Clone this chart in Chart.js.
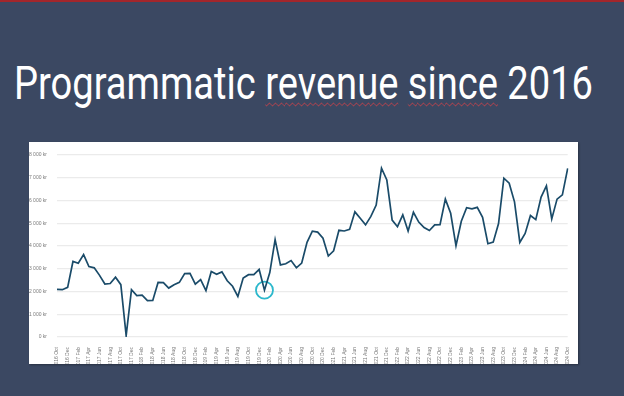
<!DOCTYPE html>
<html>
<head>
<meta charset="utf-8">
<script src="https://cdn.jsdelivr.net/npm/chart.js@4"></script>
<style>
  html, body { margin: 0; padding: 0; }
  body {
    width: 624px; height: 396px; overflow: hidden; position: relative;
    background: #3b4862;
  }
  #topline { position: absolute; left: 0; top: 0; width: 624px; height: 2px; background: #a3262b; }
  #title {
    position: absolute; left: 14px; top: 60px; margin: 0;
    font-family: Roboto, "Liberation Sans", sans-serif;
    font-weight: normal; font-size: 46px; line-height: 1; color: #ffffff;
    white-space: nowrap; transform-origin: 0 0;
  }
  .sp { text-decoration: underline wavy #c8414a 1px; text-underline-offset: 3px; }
  #panel {
    position: absolute; left: 29px; top: 142px; width: 549px; height: 222px;
    background: #ffffff; box-shadow: 1px 1px 2px rgba(0,0,0,0.35);
  }
  #panel canvas { display: block; }
</style>
</head>
<body>
<div id="topline"></div>
<h1 id="title">Programmatic <span class="sp">revenue</span> <span class="sp">since</span> 2016</h1>
<div id="panel"><canvas id="revenueChart" width="549" height="222"></canvas></div>

<script>
// months shown on the x axis, first one is 2016 Oct
const monthNames = ["Jan", "Feb", "Mar", "Apr", "May", "Jun", "Jul", "Aug", "Sep", "Oct", "Nov", "Dec"];
const startYear = 2016;
const startMonth = 9; // Oct

// monthly revenue in kr
const revenue2016 = [2090, 2080, 2180];
const revenue2017 = [3320, 3240, 3620, 3100, 3040, 2710, 2330, 2350, 2630, 2300, 60, 2080];
const revenue2018 = [1820, 1840, 1600, 1610, 2400, 2390, 2150, 2300, 2400, 2790, 2800, 2320];
const revenue2019 = [2520, 2040, 2880, 2760, 2860, 2470, 2230, 1780, 2590, 2740, 2740, 2970];
const revenue2020 = [2060, 2830, 4280, 3170, 3220, 3360, 3040, 3250, 4160, 4650, 4610, 4340];
const revenue2021 = [3560, 3790, 4690, 4660, 4730, 5500, 5220, 4930, 5300, 5800, 7420, 6900];
const revenue2022 = [5140, 4850, 5370, 4660, 5480, 5050, 4810, 4680, 4930, 4940, 6060, 5440];
const revenue2023 = [4010, 5090, 5680, 5630, 5700, 5260, 4100, 4170, 4990, 6980, 6760, 5940];
const revenue2024 = [4160, 4550, 5340, 5160, 6150, 6640, 5190, 6060, 6250, 7410];

// y axis ticks
const yTicks = [0, 1000, 2000, 3000, 4000, 5000, 6000, 7000, 8000];

// the point circled on the slide
const highlightLabel = "2020 Jan";

const revenue = [].concat(revenue2016, revenue2017, revenue2018, revenue2019,
  revenue2020, revenue2021, revenue2022, revenue2023, revenue2024);

const labels = [];
for (let i = 0; i < revenue.length; i++) {
  const m = (startMonth + i) % 12;
  const y = startYear + Math.floor((startMonth + i) / 12);
  labels.push(y + " " + monthNames[m]);
}

const highlight = labels.map((l, i) => (l === highlightLabel ? revenue[i] : null));

// squeeze the title to the width it has on the slide
const title = document.getElementById("title");
const w = title.getBoundingClientRect().width;
title.style.transform = "scaleX(" + (579 / w) + ")";

function fmtKr(v) {
  return v.toString().replace(/\B(?=(\d{3})+(?!\d))/g, " ") + " kr";
}

const ctx = document.getElementById("revenueChart").getContext("2d");
new Chart(ctx, {
  type: "line",
  data: {
    labels: labels,
    datasets: [
      {
        label: "Revenue",
        data: revenue,
        borderColor: "#1a4b69",
        borderWidth: 1.7,
        pointRadius: 0,
        tension: 0,
        fill: false,
      },
      {
        label: "Highlight",
        data: highlight,
        borderColor: "#2cb8cc",
        backgroundColor: "rgba(0,0,0,0)",
        borderWidth: 1.8,
        pointRadius: 8.5,
        showLine: false,
      },
    ],
  },
  options: {
    responsive: false,
    animation: false,
    layout: { padding: { left: 0, right: 7, top: 6, bottom: 0 } },
    plugins: { legend: { display: false }, tooltip: { enabled: false } },
    scales: {
      x: {
        offset: false,
        grid: { display: false },
        border: { display: false },
        afterFit: (scale) => { scale.height = 27; },
        ticks: {
          autoSkip: false,
          minRotation: 90,
          maxRotation: 90,
          padding: 2,
          color: "#7a7a7a",
          font: { family: "Liberation Sans", size: 5 },
          callback: function (value, index) {
            return index % 2 === 0 ? labels[index] : "";
          },
        },
      },
      y: {
        min: yTicks[0],
        max: yTicks[yTicks.length - 1],
        afterFit: (scale) => { scale.width = 28; },
        afterBuildTicks: (scale) => { scale.ticks = yTicks.map((v) => ({ value: v })); },
        grid: { color: "#ebebeb", lineWidth: 1.2, drawTicks: false },
        border: { display: false },
        ticks: {
          padding: 10,
          color: "#7a7a7a",
          font: { family: "Liberation Sans", size: 5 },
          callback: (v) => fmtKr(v),
        },
      },
    },
  },
});
</script>
</body>
</html>
